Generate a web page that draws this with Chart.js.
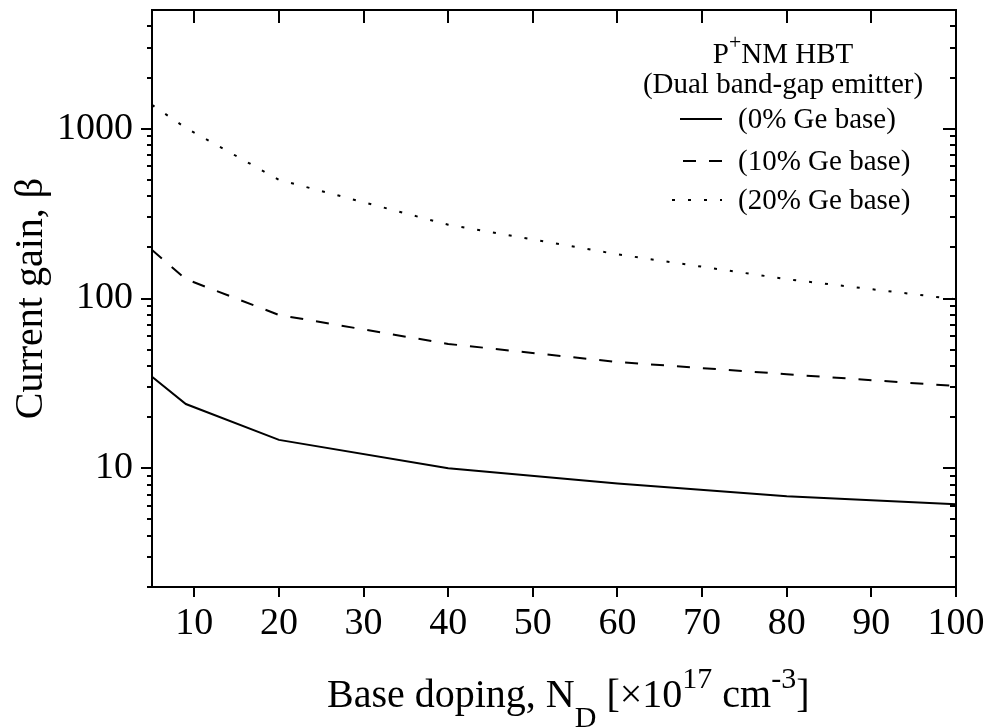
<!DOCTYPE html>
<html>
<head>
<meta charset="utf-8">
<script src="https://cdn.jsdelivr.net/npm/chart.js@4"></script>
<style>
  html, body { margin: 0; padding: 0; background: #fff; }
  #wrap { width: 993px; height: 727px; }
</style>
</head>
<body>
<div id="wrap"><canvas id="gainChart" width="993" height="727"></canvas></div>
<script>
// base doping, N_D in units of 1e17 cm^-3
const doping = [5, 9, 20, 40, 60, 80, 100];
// current gain beta for each Ge content of the base
const gain0 = [34.6, 23.9, 14.7, 10.0, 8.15, 6.85, 6.15];
const gain10 = [193, 130, 80, 54, 42.3, 35.8, 30.5];
const gain20 = [1380, 1010, 500, 272, 182, 130, 99];

const seriesNames = ['(0% Ge base)', '(10% Ge base)', '(20% Ge base)'];
const xTicks = [10, 20, 30, 40, 50, 60, 70, 80, 90, 100];
const yTicks = [10, 100, 1000];
const yMinorTicks = [2, 3, 4, 5, 6, 7, 8, 9,
  20, 30, 40, 50, 60, 70, 80, 90,
  200, 300, 400, 500, 600, 700, 800, 900,
  2000, 3000, 4000];

const serif = '"Liberation Serif", "Times New Roman", serif';
Chart.defaults.font.family = serif;
Chart.defaults.color = '#000';

const dashes = [[], [13, 13], [3, 13]];

const toPoints = ys => doping.map((x, i) => ({ x: x, y: ys[i] }));

// draw a line of text with optional sup/sub pieces, starting at x
function drawRich(ctx, parts, x, y, size, align) {
  const widths = parts.map(p => {
    ctx.font = (p.sup || p.sub ? size * 0.75 : size) + 'px ' + serif;
    return ctx.measureText(p.t).width;
  });
  const total = widths.reduce((a, b) => a + b, 0);
  let cx = align === 'center' ? x - total / 2 : x;
  ctx.textAlign = 'left';
  ctx.textBaseline = 'alphabetic';
  parts.forEach((p, i) => {
    let dy = 0;
    if (p.sup) dy = -size * 0.47;
    if (p.sub) dy = size * 0.5;
    ctx.font = (p.sup || p.sub ? size * 0.75 : size) + 'px ' + serif;
    ctx.fillText(p.t, cx, y + dy);
    cx += widths[i];
  });
}

const frameTicks = {
  id: 'frameTicks',
  afterDatasetsDraw(chart) {
    const { ctx, chartArea: { left, right, top, bottom }, scales: { x, y } } = chart;
    ctx.save();
    ctx.strokeStyle = '#000';
    ctx.lineWidth = 2;
    ctx.strokeRect(left, top, right - left, bottom - top);
    ctx.beginPath();
    xTicks.forEach(v => {
      const px = Math.round(x.getPixelForValue(v));
      ctx.moveTo(px, bottom); ctx.lineTo(px, bottom + 10);
      ctx.moveTo(px, top); ctx.lineTo(px, top + 13);
    });
    yTicks.forEach(v => {
      const py = Math.round(y.getPixelForValue(v));
      ctx.moveTo(left - 11, py); ctx.lineTo(left, py);
      ctx.moveTo(right - 13, py); ctx.lineTo(right, py);
    });
    yMinorTicks.forEach(v => {
      const py = Math.round(y.getPixelForValue(v));
      ctx.moveTo(left - 5, py); ctx.lineTo(left, py);
      ctx.moveTo(right - 6, py); ctx.lineTo(right, py);
    });
    ctx.stroke();
    ctx.restore();
  }
};

const textBits = {
  id: 'textBits',
  afterDraw(chart) {
    const { ctx, chartArea: { left, right, top } } = chart;
    ctx.save();
    ctx.fillStyle = '#000';
    // x axis title
    drawRich(ctx, [
      { t: 'Base doping, N' }, { t: 'D', sub: true }, { t: ' [\u00d710' },
      { t: '17', sup: true }, { t: ' cm' }, { t: '-3', sup: true }, { t: ']' }
    ], left + 175, 707, 40, 'left');

    // legend header
    const cx = right - 173;
    drawRich(ctx, [{ t: 'P' }, { t: '+', sup: true }, { t: 'NM HBT' }], cx, top + 53, 29, 'center');
    drawRich(ctx, [{ t: '(Dual band-gap emitter)' }], cx, top + 83, 29, 'center');

    // legend entries
    const textX = right - 218;
    const baselines = [top + 118, top + 160, top + 199];
    const sampleStart = [right - 276, right - 273, right - 284];
    ctx.lineWidth = 2;
    ctx.strokeStyle = '#000';
    seriesNames.forEach((name, i) => {
      const sy = baselines[i] - 9;
      ctx.setLineDash(dashes[i]);
      ctx.beginPath();
      ctx.moveTo(sampleStart[i], sy);
      ctx.lineTo(right - 234, sy);
      ctx.stroke();
      ctx.setLineDash([]);
      drawRich(ctx, [{ t: name }], textX, baselines[i], 29, 'left');
    });
    ctx.restore();
  }
};

new Chart(document.getElementById('gainChart'), {
  type: 'line',
  data: {
    datasets: [gain0, gain10, gain20].map((ys, i) => ({
      label: seriesNames[i],
      data: toPoints(ys),
      borderColor: '#000',
      borderWidth: 2,
      borderDash: dashes[i],
      pointRadius: 0,
      tension: 0,
      fill: false
    }))
  },
  options: {
    responsive: false,
    devicePixelRatio: 1,
    animation: false,
    layout: { padding: { top: 10, right: 37, left: 0, bottom: 0 } },
    plugins: { legend: { display: false }, tooltip: { enabled: false } },
    scales: {
      x: {
        type: 'linear', min: 5, max: 100,
        grid: { display: false, drawTicks: false },
        border: { display: false },
        ticks: { font: { size: 38 }, color: '#000', padding: 14, maxRotation: 0, autoSkip: false },
        afterBuildTicks: s => { s.ticks = xTicks.map(v => ({ value: v })); },
        afterFit: s => { s.height = 140; s.paddingLeft = 0; s.paddingRight = 0; }
      },
      y: {
        type: 'logarithmic', min: 2, max: 5000,
        grid: { display: false, drawTicks: false },
        border: { display: false },
        ticks: { font: { size: 38 }, color: '#000', padding: 19, autoSkip: false, callback: v => String(v) },
        afterBuildTicks: s => { s.ticks = yTicks.map(v => ({ value: v })); },
        title: { display: true, text: 'Current gain, \u03b2', font: { size: 40 }, color: '#000', padding: { top: 7, bottom: 0 } },
        afterFit: s => { s.width = 152; s.paddingTop = 0; s.paddingBottom = 0; }
      }
    }
  },
  plugins: [frameTicks, textBits]
});
</script>
</body>
</html>
